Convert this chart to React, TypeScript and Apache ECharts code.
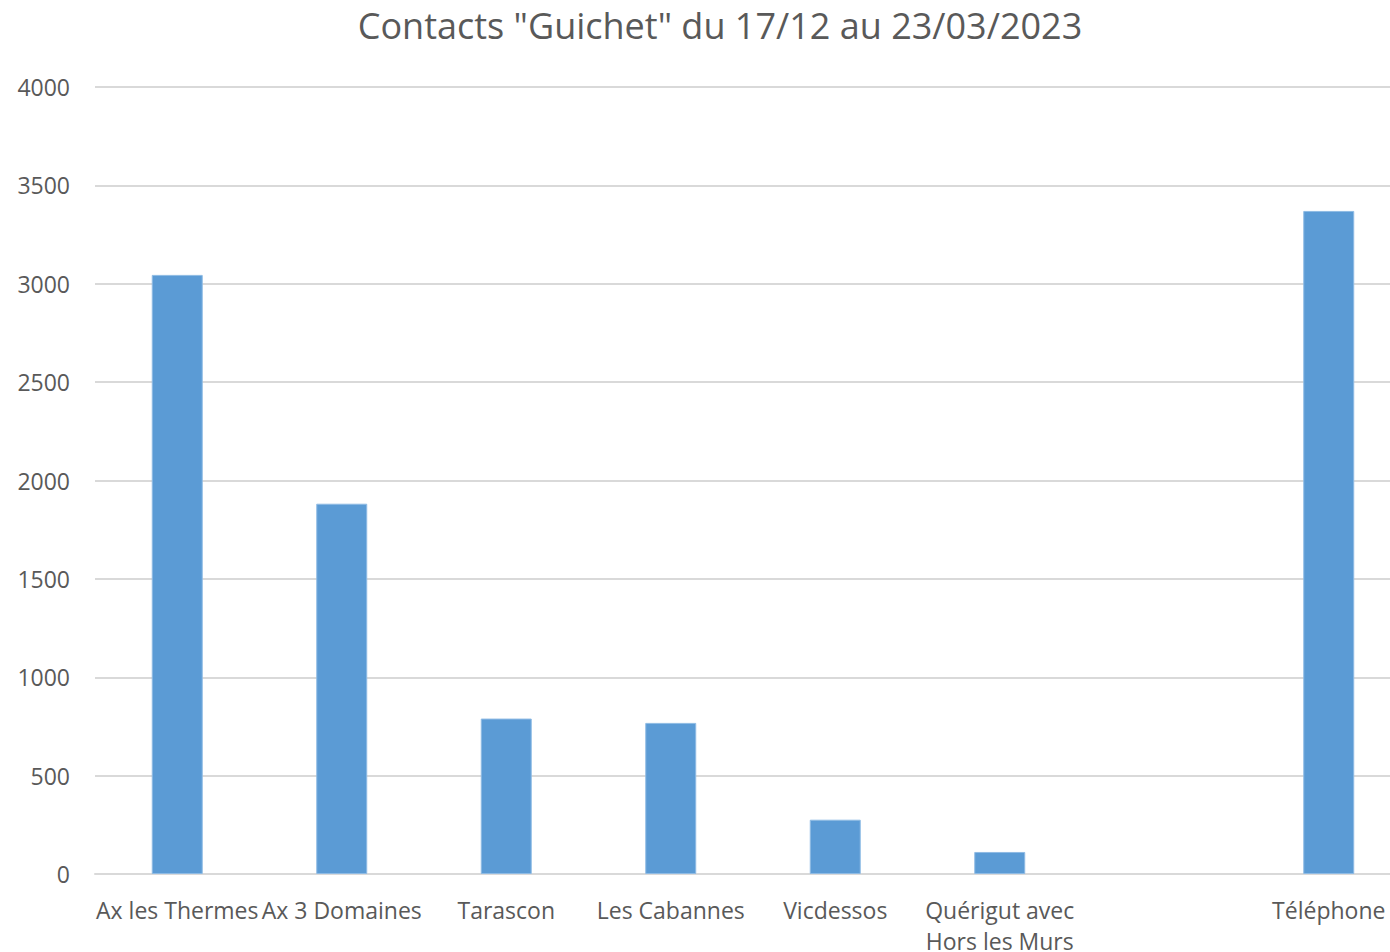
import React, { useEffect, useRef } from "react";
import * as echarts from "echarts";

const TITLE = 'Contacts "Guichet" du 17/12 au 23/03/2023';
const categories = [
  "Ax les Thermes",
  "Ax 3 Domaines",
  "Tarascon",
  "Les Cabannes",
  "Vicdessos",
  "Quérigut avec Hors les Murs",
  "",
  "Téléphone",
];
const values: (number | null)[] = [3045, 1882, 790, 768, 276, 112, null, 3370];
const yTicks = { min: 0, max: 4000, interval: 500 };

export default function App() {
  const ref = useRef<HTMLDivElement>(null);
  useEffect(() => {
    if (!ref.current) return;
    const chart = echarts.init(ref.current, undefined, { renderer: "svg" });
    const font = "'Open Sans', 'Noto Sans', sans-serif";
    chart.setOption({
      animation: false,
      backgroundColor: "#ffffff",
      title: {
        text: TITLE,
        left: "center",
        top: 2,
        textStyle: {
          fontFamily: font,
          fontSize: 36,
          fontWeight: "normal",
          color: "#595959",
        },
      },
      grid: {
        left: 95,
        right: 29,
        top: 87,
        bottom: 78,
        containLabel: false,
        outerBoundsMode: "none",
      },
      xAxis: {
        type: "category",
        data: categories,
        axisLine: { lineStyle: { color: "#d9d9d9", width: 2 } },
        axisTick: { show: false },
        axisLabel: {
          interval: 0,
          color: "#595959",
          fontFamily: font,
          fontSize: 23,
          margin: 20,
          lineHeight: 31,
          formatter: (v: string) => v.replace("avec ", "avec\n"),
        },
      },
      yAxis: {
        type: "value",
        min: yTicks.min,
        max: yTicks.max,
        interval: yTicks.interval,
        axisLine: { show: false },
        axisTick: { show: false },
        splitLine: { lineStyle: { color: "#d9d9d9", width: 2 } },
        axisLabel: {
          color: "#595959",
          fontFamily: font,
          fontSize: 23,
          margin: 25,
          formatter: (v: number) => String(v),
        },
      },
      series: [
        {
          type: "bar",
          data: values,
          barWidth: "31%",
          itemStyle: {
            color: "#5b9bd5",
            borderColor: "#8fbbe4",
            borderWidth: 1,
          },
        },
      ],
    });
    return () => chart.dispose();
  }, []);
  return (
    <div
      style={{
        position: "absolute",
        left: 0,
        top: 0,
        width: 1390,
        height: 952,
        overflow: "hidden",
        background: "#fff",
      }}
    >
      <div ref={ref} style={{ width: 1440, height: 952 }} />
    </div>
  );
}
